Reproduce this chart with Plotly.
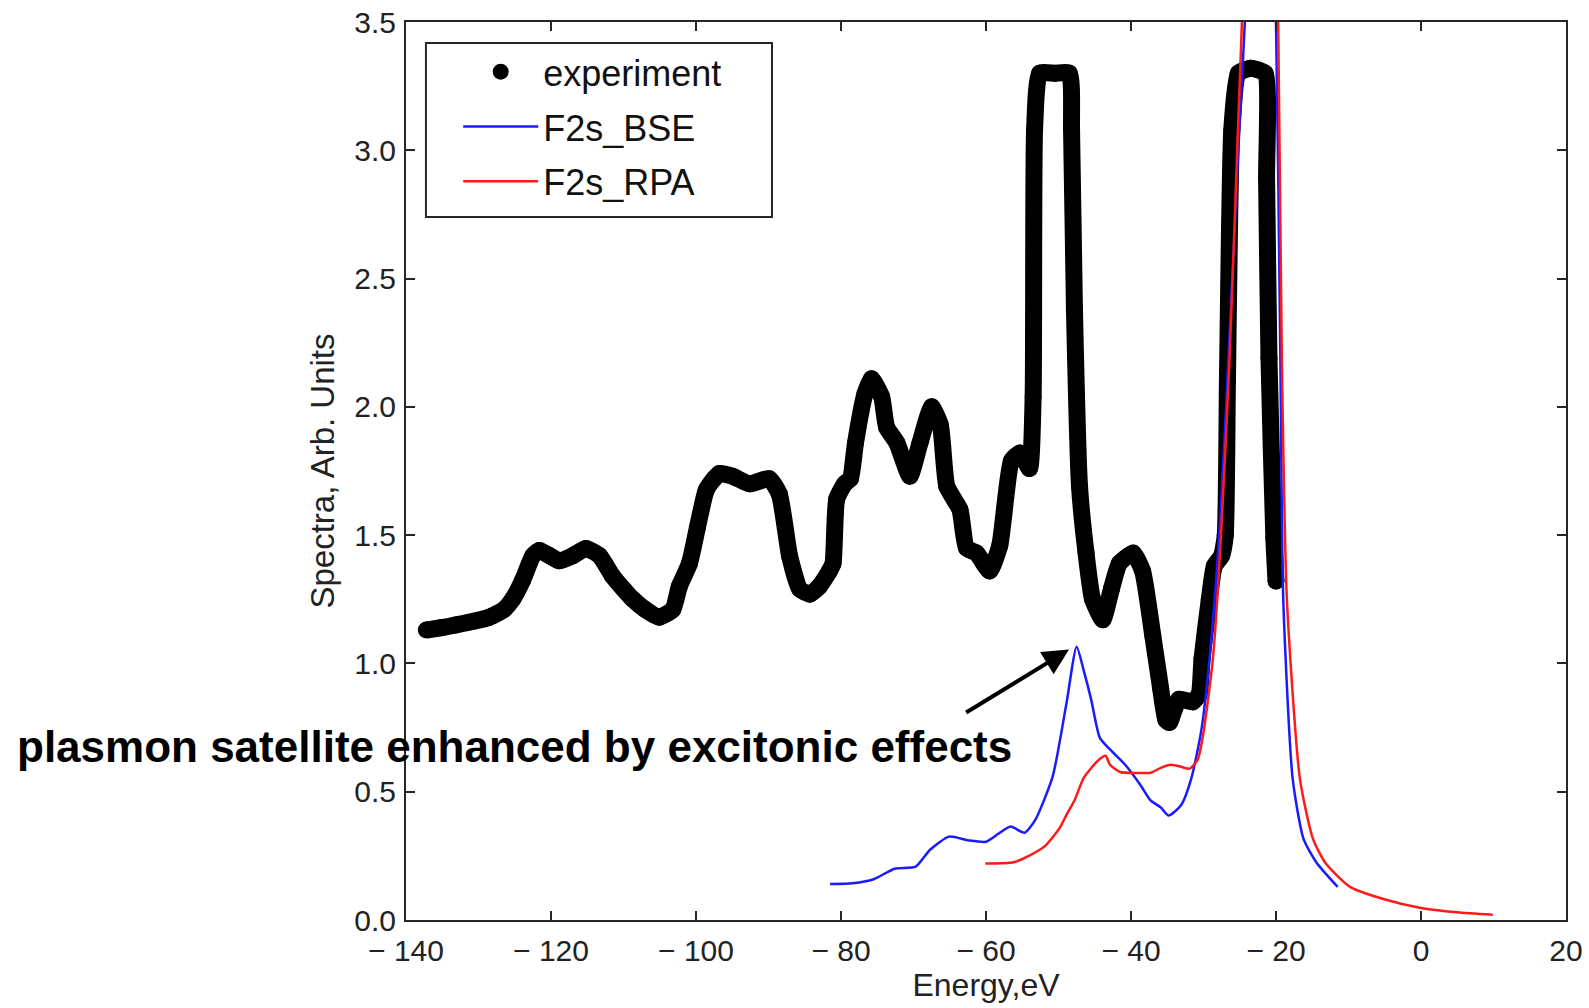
import plotly.graph_objects as go

# ---------------- data ----------------
exp_x = [-137.2, -135.0, -133.1, -130.5, -128.5, -126.5, -125.3, -123.9, -122.5, -121.6,
         -120.2, -118.9, -117.0, -115.2, -113.3, -111.5, -110.0, -108.7, -107.0, -105.1,
         -103.2, -102.3, -100.9, -99.8, -98.6, -97.5, -96.8, -95.0, -92.6, -89.9,
         -88.5, -87.1, -85.7, -84.3, -83.0, -81.6, -81.1, -80.6, -79.5, -78.7,
         -78.0, -76.7, -75.8, -74.4, -73.7, -72.3, -70.5, -69.1, -67.5, -66.3,
         -65.4, -63.6, -62.7, -61.3, -59.5, -58.1, -56.5, -55.3, -54.0, -53.5,
         -53.3, -52.6, -50.5, -48.5, -48.2, -47.8, -47.1, -46.2, -45.3, -43.9,
         -42.7, -41.6, -39.7, -38.4, -37.0, -35.9, -35.2, -34.7, -33.4, -31.5,
         -30.6, -30.2, -29.2, -28.5, -27.5, -27.0, -26.7, -26.1, -25.2, -23.5,
         -21.5, -21.3, -20.97, -20.3, -20.0]
exp_y = [1.13, 1.14, 1.15, 1.165, 1.18, 1.21, 1.25, 1.325, 1.42, 1.44,
         1.42, 1.40, 1.42, 1.448, 1.42, 1.34, 1.29, 1.25, 1.21, 1.18,
         1.21, 1.30, 1.39, 1.53, 1.675, 1.72, 1.74, 1.73, 1.70, 1.72,
         1.66, 1.42, 1.29, 1.27, 1.30, 1.36, 1.39, 1.64, 1.70, 1.72,
         1.86, 2.05, 2.11, 2.04, 1.92, 1.86, 1.73, 1.86, 2.00, 1.93,
         1.69, 1.60, 1.45, 1.43, 1.36, 1.46, 1.79, 1.82, 1.76, 2.04,
         3.08, 3.30, 3.30, 3.30, 3.08, 2.38, 1.69, 1.43, 1.25, 1.17,
         1.29, 1.39, 1.43, 1.36, 1.11, 0.90, 0.78, 0.77, 0.86, 0.85,
         0.88, 1.02, 1.25, 1.38, 1.42, 1.50, 2.10, 3.08, 3.30, 3.32,
         3.30, 2.89, 2.19, 1.49, 1.32]

bse_x = [-81.5, -78.4, -75.5, -72.6, -69.7, -67.75, -65.1, -62.4, -60.0, -58.3,
         -56.6, -54.7, -53.2, -50.8, -48.9, -47.5, -46.5, -45.5, -44.3, -42.9,
         -40.8, -38.7, -37.3, -35.9, -34.8, -33.1, -31.7, -30.3, -28.9, -27.6,
         -26.2, -25.2, -24.3, -23.3, -22.2, -21.0, -20.0, -19.4, -19.0, -17.7,
         -16.2, -14.4, -11.5]
bse_y = [0.14, 0.143, 0.159, 0.20, 0.208, 0.273, 0.325, 0.31, 0.305, 0.336,
         0.364, 0.34, 0.39, 0.56, 0.845, 1.065, 0.97, 0.86, 0.71, 0.665,
         0.605, 0.526, 0.466, 0.439, 0.407, 0.447, 0.55, 0.74, 1.10, 1.61,
         2.40, 3.00, 3.50, 4.60, 5.20, 4.40, 3.50, 2.19, 1.25, 0.55,
         0.316, 0.223, 0.129]

rpa_x = [-60.1, -56.2, -54.1, -51.8, -49.9, -48.9, -47.8, -46.5, -44.6, -43.5,
         -42.9, -41.5, -39.4, -37.3, -35.9, -34.5, -33.1, -31.9, -30.8, -30.1,
         -28.7, -27.6, -26.4, -25.2, -24.7, -23.6, -22.2, -20.8, -19.7, -19.2,
         -18.5, -16.7, -14.9, -13.2, -9.8, -5.2, 0.0, 5.0, 9.9]
rpa_y = [0.22, 0.225, 0.25, 0.29, 0.356, 0.41, 0.466, 0.555, 0.62, 0.64,
         0.605, 0.577, 0.573, 0.574, 0.593, 0.605, 0.597, 0.59, 0.625, 0.714,
         1.02, 1.49, 2.19, 3.12, 3.50, 5.00, 6.00, 5.00, 3.50, 2.19,
         1.25, 0.55, 0.316, 0.223, 0.129, 0.082, 0.047, 0.03, 0.02]

x_tick_vals = [-140, -120, -100, -80, -60, -40, -20, 0, 20]
x_tick_text = ["\u2212 140", "\u2212 120", "\u2212 100", "\u2212 80",
               "\u2212 60", "\u2212 40", "\u2212 20", "0", "20"]
y_tick_vals = [0.0, 0.5, 1.0, 1.5, 2.0, 2.5, 3.0, 3.5]

series_names = ["experiment", "F2s_BSE", "F2s_RPA"]
annotation_text = "plasmon satellite enhanced by excitonic effects"
arrow_head = (-48.55, 1.054)
arrow_tail = (-62.94, 0.805)

FONT = "Liberation Sans, Arial, Helvetica, sans-serif"
AX = "#262626"
TXT = "#222"

fig = go.Figure()
fig.add_trace(go.Scatter(x=exp_x, y=exp_y, mode="lines",
                         line=dict(color="black", width=17, shape="spline", smoothing=0.5),
                         showlegend=False, hoverinfo="skip"))
fig.add_trace(go.Scatter(x=exp_x, y=exp_y, mode="markers", name=series_names[0],
                         marker=dict(color="black", size=17), legendgroup="g1"))
fig.add_trace(go.Scatter(x=bse_x, y=bse_y, mode="lines", name=series_names[1],
                         line=dict(color="#1a1aff", width=2.5, shape="spline", smoothing=0.6),
                         legendgroup="g2"))
fig.add_trace(go.Scatter(x=rpa_x, y=rpa_y, mode="lines", name=series_names[2],
                         line=dict(color="#ff1a1a", width=2.5, shape="spline", smoothing=0.6),
                         legendgroup="g3"))

axis_common = dict(showline=True, linewidth=2, linecolor=AX, mirror="ticks",
                   ticks="inside", ticklen=9, tickwidth=1.5, tickcolor=AX,
                   showgrid=False, zeroline=False, automargin=False,
                   tickfont=dict(family=FONT, size=30, color=TXT))

fig.update_layout(
    width=1589, height=1008,
    margin=dict(l=406, r=23, t=22, b=88, autoexpand=False),
    paper_bgcolor="white", plot_bgcolor="white",
    xaxis=dict(range=[-140, 20], tickvals=x_tick_vals, ticktext=x_tick_text,
               ticklabelstandoff=3,
               title=dict(text="Energy,eV", font=dict(family=FONT, size=32, color=TXT),
                          standoff=8),
               **axis_common),
    yaxis=dict(range=[0, 3.5], tickvals=y_tick_vals, tickformat=".1f",
               ticklabelstandoff=2,
               title=dict(text="Spectra, Arb. Units", font=dict(family=FONT, size=33, color=TXT),
                          standoff=10),
               **axis_common),
    legend=dict(x=0.045, y=0.978, xanchor="left", yanchor="top",
                bgcolor="rgba(0,0,0,0)", borderwidth=0,
                font=dict(family=FONT, size=36, color="#111"),
                tracegroupgap=5, itemwidth=75),
    showlegend=True,
)

fig.add_shape(type="rect", xref="paper", yref="paper",
              x0=0.0172, x1=0.3155, y0=0.7829, y1=0.9766,
              line=dict(color=AX, width=2), fillcolor="rgba(0,0,0,0)", layer="above")

fig.add_annotation(x=arrow_head[0], y=arrow_head[1], ax=arrow_tail[0], ay=arrow_tail[1],
                   xref="x", yref="y", axref="x", ayref="y", text="",
                   showarrow=True, arrowhead=2, arrowsize=1.3, arrowwidth=4,
                   arrowcolor="black")
fig.add_annotation(x=-0.337, xref="paper", y=0.678, yref="y",
                   xanchor="left", yanchor="middle", showarrow=False,
                   text=annotation_text,
                   font=dict(family=FONT, size=44, color="black", weight="bold"))

inner = fig.to_html(full_html=False, include_plotlyjs=True,
                    config={"displayModeBar": False})
html = ("<!DOCTYPE html><html><head><meta charset='utf-8'>"
        "<style>html,body{margin:0;padding:0;overflow:hidden;background:white;}</style>"
        "</head><body>" + inner + "</body></html>")
with open("out.html", "w", encoding="utf-8") as f:
    f.write(html)
